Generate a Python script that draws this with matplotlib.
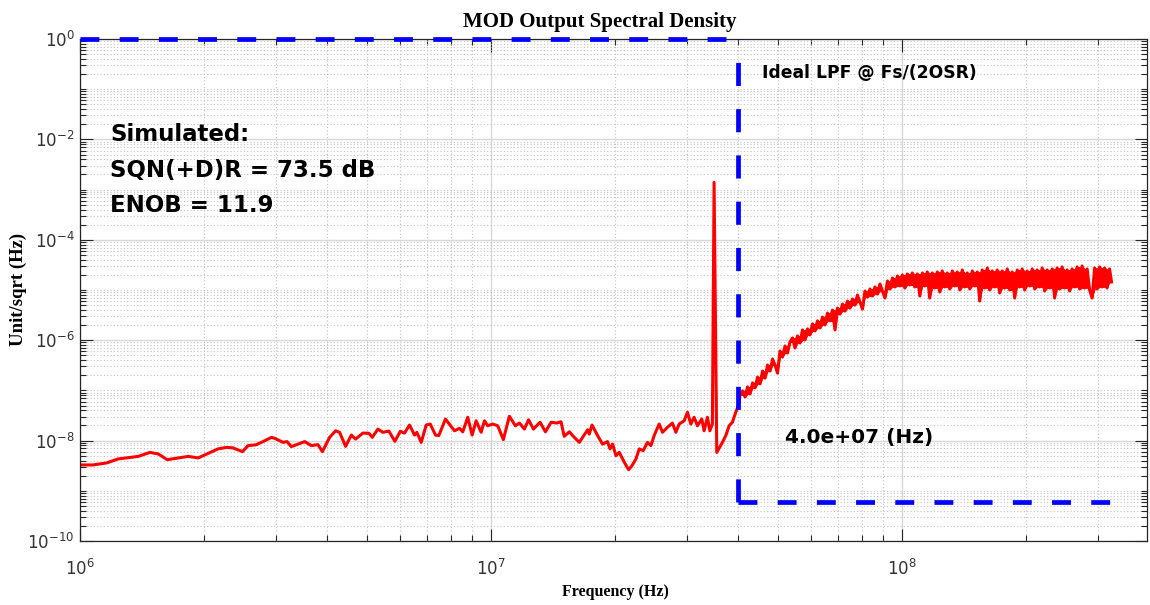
import numpy as np
import matplotlib
matplotlib.use("Agg")
import matplotlib.pyplot as plt
from matplotlib.ticker import LogLocator, NullFormatter

# modulator output spectrum (freq in MHz, level in dB)
freq_lo_mhz = [1.000, 1.075, 1.161, 1.239, 1.386, 1.479, 1.550, 1.630, 1.833, 1.939,
               2.168, 2.273, 2.358, 2.485, 2.564, 2.677, 2.789, 2.924, 2.978, 3.119,
               3.190, 3.269, 3.523, 3.656, 3.794, 3.889, 4.050, 4.189, 4.283, 4.430,
               4.574, 4.685, 4.881, 5.048, 5.144, 5.308, 5.459, 5.645, 5.838, 6.017,
               6.163, 6.337, 6.518, 6.602, 6.767, 6.958, 7.117, 7.331, 7.467, 7.752,
               8.153, 8.384, 8.540, 8.782, 9.001, 9.204, 9.467, 9.643, 9.822, 10.10,
               10.39, 10.72, 11.09, 11.47, 11.73, 12.06, 12.35, 12.69, 13.17, 13.57,
               14.01, 14.45, 14.81, 15.08, 15.52, 15.87, 16.41, 17.19, 17.35, 17.62,
               18.18, 18.69, 19.22, 19.49, 19.77, 20.15, 20.53, 21.11, 21.63, 22.04,
               22.54, 22.96, 23.48, 24.04, 24.51, 24.96, 25.67, 26.15, 26.89, 27.65,
               28.19, 28.71, 29.53, 30.08, 30.65, 31.22, 31.81, 32.60, 33.02, 33.64,
               34.10, 34.59, 34.92, 35.45, 36.59, 37.29, 37.99, 38.69, 39.43, 40.01]
psd_lo_db = [-169.7, -169.7, -168.9, -167.3, -166.3, -164.7, -165.3, -167.6, -166.3, -166.9,
             -163.3, -162.7, -162.9, -164.4, -162.0, -161.7, -160.4, -158.7, -159.1, -160.7,
             -160.4, -162.4, -160.4, -162.0, -161.6, -164.4, -158.7, -156.1, -156.7, -162.3,
             -157.8, -159.4, -157.0, -157.1, -158.7, -155.4, -156.7, -156.2, -160.3, -156.3,
             -157.0, -153.8, -157.8, -156.7, -160.7, -153.8, -153.4, -157.8, -158.0, -151.4,
             -156.1, -155.1, -156.5, -150.7, -157.8, -152.1, -156.7, -152.1, -154.1, -153.4,
             -154.1, -159.6, -150.3, -154.1, -153.0, -155.4, -151.7, -155.4, -152.7, -156.5,
             -152.7, -153.0, -152.5, -158.3, -156.5, -158.3, -160.7, -155.7, -157.4, -153.8,
             -158.0, -161.4, -160.4, -163.3, -161.4, -166.0, -164.7, -168.6, -171.6, -170.0,
             -167.3, -163.3, -164.0, -160.7, -162.0, -158.0, -153.4, -156.7, -154.7, -153.0,
             -156.7, -153.4, -152.1, -148.7, -153.4, -150.7, -154.1, -151.4, -156.1, -150.7,
             -156.1, -153.4, -57.1, -164.7, -160.7, -158.0, -154.1, -152.7, -148.7, -146.1]

freq_hi_mhz = [40.39, 40.96, 41.54, 42.12, 42.71, 43.32, 43.93, 44.55, 45.17, 45.81,
               46.46, 47.11, 47.78, 48.45, 49.13, 49.82, 50.52, 51.24, 51.96, 52.69,
               53.43, 54.19, 54.95, 55.72, 56.51, 57.31, 58.11, 58.93, 59.76, 60.61,
               61.46, 62.33, 63.21, 64.10, 65.00, 65.92, 66.85, 67.79, 68.75, 69.72,
               70.70, 71.70, 72.71, 73.73, 74.77, 75.83, 76.90, 77.98, 79.08, 80.20,
               81.33, 82.48, 83.64, 84.82, 86.01, 87.22, 88.45, 89.70, 90.96, 92.25,
               93.55, 94.87, 96.21, 97.57, 98.88, 100.3, 101.7, 103.1, 104.6, 106.0,
               107.5, 109.1, 110.6, 112.2, 113.7, 115.3, 116.9, 118.6, 120.3, 122.0,
               123.7, 125.4, 127.2, 129.0, 130.8, 132.7, 134.5, 136.4, 138.4, 140.3,
               142.3, 144.3, 146.3, 148.4, 150.5, 152.6, 154.7, 156.9, 159.1, 161.4,
               163.6, 165.9, 168.3, 170.6, 173.0, 175.5, 178.0, 180.5, 183.0, 185.6,
               188.2, 190.9, 193.5, 196.3, 199.0, 201.8, 204.7, 207.6, 210.5, 213.5,
               216.5, 219.5, 222.6, 225.8, 228.9, 232.2, 235.4, 238.7, 242.1, 245.5,
               249.0, 252.5, 256.0, 259.6, 263.3, 267.0, 270.8, 274.6, 278.4, 282.4,
               286.4, 290.4, 294.5, 298.6, 302.8, 307.1, 311.4, 315.8, 320.2, 323.8]
psd_hi_db = [-141.8, -140.2, -142.6, -138.6, -141.4, -137.0, -139.0, -134.7, -137.4, -132.3,
             -135.1, -129.9, -132.3, -127.5, -129.9, -133.1, -124.3, -126.7, -122.3, -125.1,
             -120.7, -119.1, -123.1, -118.3, -121.1, -115.9, -119.9, -115.5, -117.9, -113.5,
             -116.3, -112.3, -115.1, -110.8, -113.9, -109.2, -112.3, -108.0, -115.9, -107.2,
             -109.6, -105.6, -108.4, -104.4, -107.2, -103.6, -106.0, -102.0, -104.8, -107.6,
             -100.4, -102.8, -99.6, -102.4, -98.8, -101.6, -97.6, -100.4, -103.2, -96.4,
             -99.6, -95.2, -98.8, -94.4, -98.4, -94.0, -99.2, -93.6, -98.0, -93.2,
             -98.8, -93.6, -102.4, -93.2, -98.4, -92.8, -103.2, -93.2, -99.2, -92.8,
             -100.8, -92.4, -98.8, -93.2, -99.6, -92.4, -98.4, -92.8, -100.0, -92.0,
             -98.8, -93.2, -99.6, -92.4, -98.4, -92.8, -104.4, -92.0, -99.2, -91.2,
             -100.0, -92.4, -98.8, -92.0, -101.2, -92.4, -99.2, -91.6, -100.0, -92.8,
             -103.2, -92.0, -98.8, -91.6, -100.0, -92.4, -98.4, -91.6, -99.6, -92.0,
             -98.8, -91.2, -100.4, -92.0, -99.2, -91.6, -103.2, -91.2, -99.6, -90.8,
             -99.2, -92.0, -100.4, -91.6, -98.8, -90.8, -99.6, -90.4, -99.2, -91.6,
             -100.0, -103.2, -91.2, -99.6, -90.8, -98.8, -91.2, -99.2, -91.6, -96.8]

# ideal low pass filter @ Fs/(2OSR)
lpf_freq = [1e6, 4.0e7, 4.0e7, 3.24e8]
lpf_mag = [1.0, 1.0, 5.9e-10, 5.9e-10]
y_ticks = [1e-10, 1e-8, 1e-6, 1e-4, 1e-2, 1e0]

freq = np.array(freq_lo_mhz + freq_hi_mhz) * 1e6
psd = 10 ** (np.array(psd_lo_db + psd_hi_db) / 20)

# above Fs/(2OSR) the trace is so dense it prints as a solid band:
# fill the gaps between neighbouring samples
f_hi = np.array(freq_hi_mhz) * 1e6
p_hi = 10 ** (np.array(psd_hi_db) / 20)
prev = np.r_[p_hi[0], p_hi[:-1]]
nxt = np.r_[p_hi[1:], p_hi[-1]]
band_top = np.maximum(p_hi, np.minimum(prev, nxt))
band_bot = np.minimum(p_hi, np.maximum(prev, nxt))

fig = plt.figure(figsize=(11.5, 6.05), dpi=100)
ax = fig.add_axes([80 / 1150, 64 / 605, 1067 / 1150, 502 / 605])
ax.set_xscale("log")
ax.set_yscale("log")

ax.fill_between(f_hi, band_bot, band_top, facecolor="#ff0000", edgecolor="#ff0000",
                lw=0.6, zorder=2)
ax.plot(freq, psd, color="#ff0000", lw=2.2, zorder=2)

# top, vertical and bottom part of the filter shape (dash length differs in the original)
ax.plot(lpf_freq[0:2], lpf_mag[0:2], color="#0000ff", lw=3.4, dashes=(4.0, 4.3),
        clip_on=False, zorder=3)
ax.plot([lpf_freq[2], lpf_freq[1]], [lpf_mag[2], lpf_mag[1]], color="#0000ff", lw=3.4,
        dashes=(4.9, 4.9), clip_on=False, zorder=3)
ax.plot(lpf_freq[2:4], lpf_mag[2:4], color="#0000ff", lw=3.4, dashes=(4.0, 4.3),
        clip_on=False, zorder=3)

ax.set_xlim(1e6, 3.95e8)
ax.set_ylim(1e-10, 1)
ax.set_yticks(y_ticks)
ax.xaxis.set_minor_locator(LogLocator(base=10, subs=np.arange(2, 10), numticks=50))
ax.yaxis.set_minor_locator(LogLocator(base=10, subs=np.arange(1, 10), numticks=100))
ax.xaxis.set_minor_formatter(NullFormatter())
ax.yaxis.set_minor_formatter(NullFormatter())

ax.grid(which="major", color="#d8d8d8", lw=1.0, ls="-")
ax.grid(which="minor", color="#c4c4c4", lw=0.8, ls=(0, (1, 2)))
ax.set_axisbelow(True)

ax.tick_params(which="both", direction="in", top=True, right=True, color="#262626",
               labelcolor="#333333", labelsize=12, width=0.8)
ax.tick_params(which="major", length=9)
ax.tick_params(which="minor", length=4.5)
ax.tick_params(axis="x", pad=13)
ax.tick_params(axis="y", pad=4)
for sp in ax.spines.values():
    sp.set_color("#262626")
    sp.set_linewidth(0.9)

ax.text((110 - 80) / 1067, (541 - 170) / 502, "Simulated:\nSQN(+D)R = 73.5 dB\nENOB = 11.9",
        transform=ax.transAxes, ha="left", va="center", fontsize=16.5, fontweight="bold",
        family="DejaVu Sans", linespacing=1.67)
ax.text((762 - 80) / 1067, (541 - 73) / 502, "Ideal LPF @ Fs/(2OSR)", transform=ax.transAxes,
        ha="left", va="center", fontsize=12.3, fontweight="bold", family="DejaVu Sans")
ax.text((785 - 80) / 1067, (541 - 437) / 502, "4.0e+07 (Hz)", transform=ax.transAxes,
        ha="left", va="center", fontsize=14.5, fontweight="bold", family="DejaVu Sans")

fig.text(600 / 1150, 1 - 22 / 605, "MOD Output Spectral Density", ha="center", va="center",
         fontsize=15, fontweight="bold", family="Liberation Serif")
fig.text(615 / 1150, 1 - 592 / 605, "Frequency (Hz)", ha="center", va="center",
         fontsize=11.5, fontweight="bold", family="Liberation Serif")
fig.text(18 / 1150, 1 - 289 / 605, "Unit/sqrt (Hz)", ha="center", va="center", rotation=90,
         fontsize=13.5, fontweight="bold", family="Liberation Serif")

fig.savefig("out.png", dpi=100)
